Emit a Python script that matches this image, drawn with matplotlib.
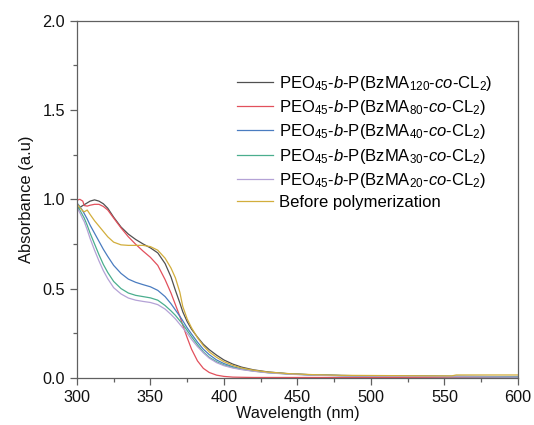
import matplotlib
matplotlib.use("Agg")
import matplotlib.pyplot as plt
from matplotlib.ticker import MultipleLocator, FormatStrFormatter

plt.rcParams['font.family'] = ['Liberation Sans', 'DejaVu Sans']
plt.rcParams['mathtext.fontset'] = 'custom'
plt.rcParams['mathtext.rm'] = 'Liberation Sans'
plt.rcParams['mathtext.it'] = 'Liberation Sans:italic'
plt.rcParams['mathtext.bf'] = 'Liberation Sans:bold'

# UV-vis absorption spectra (wavelength in nm)
wavelength = [300, 302, 304, 305, 307, 309, 312, 315, 318, 321, 325, 330, 335, 340,
              345, 350, 355, 360, 364, 367, 370, 372, 375, 378, 382, 386, 390, 395,
              400, 406, 412, 420, 430, 445, 460, 480, 500, 520, 540, 555, 558, 580, 600]

abs_bzma120 = [0.94, 0.955, 0.965, 0.97, 0.98, 0.99, 0.997, 0.99, 0.975, 0.95, 0.90, 0.845,
               0.805, 0.775, 0.75, 0.728, 0.70, 0.64, 0.565, 0.49, 0.42, 0.37, 0.315, 0.272,
               0.228, 0.188, 0.158, 0.127, 0.10, 0.077, 0.06, 0.045, 0.033, 0.022, 0.017,
               0.013, 0.011, 0.010, 0.009, 0.008, 0.008, 0.007, 0.007]
abs_bzma80 = [0.995, 1.0, 0.99, 0.965, 0.962, 0.967, 0.972, 0.972, 0.96, 0.94, 0.895, 0.84,
              0.79, 0.748, 0.71, 0.675, 0.63, 0.55, 0.475, 0.41, 0.345, 0.295, 0.225, 0.16,
              0.095, 0.053, 0.03, 0.015, 0.008, 0.004, 0.003, 0.002, 0.002, 0.002, 0.002,
              0.002, 0.002, 0.002, 0.002, 0.002, 0.002, 0.002, 0.002]
abs_bzma40 = [0.98, 0.96, 0.935, 0.92, 0.89, 0.855, 0.81, 0.765, 0.72, 0.68, 0.63, 0.585,
              0.553, 0.535, 0.522, 0.51, 0.49, 0.455, 0.415, 0.38, 0.345, 0.32, 0.28, 0.245,
              0.20, 0.16, 0.13, 0.10, 0.08, 0.062, 0.05, 0.04, 0.03, 0.022, 0.017,
              0.013, 0.011, 0.010, 0.009, 0.008, 0.008, 0.007, 0.006]
abs_bzma30 = [0.965, 0.94, 0.91, 0.895, 0.855, 0.81, 0.75, 0.69, 0.635, 0.59, 0.54, 0.50,
              0.475, 0.462, 0.455, 0.448, 0.435, 0.405, 0.375, 0.35, 0.32, 0.30, 0.265, 0.23,
              0.185, 0.145, 0.115, 0.09, 0.072, 0.058, 0.048, 0.038, 0.029, 0.021, 0.016,
              0.012, 0.010, 0.009, 0.008, 0.007, 0.007, 0.006, 0.005]
abs_bzma20 = [0.955, 0.925, 0.89, 0.875, 0.83, 0.78, 0.715, 0.655, 0.60, 0.555, 0.505, 0.47,
              0.447, 0.435, 0.428, 0.422, 0.41, 0.385, 0.355, 0.33, 0.30, 0.28, 0.25, 0.215,
              0.175, 0.14, 0.11, 0.085, 0.068, 0.055, 0.046, 0.037, 0.028, 0.02, 0.015,
              0.011, 0.009, 0.008, 0.007, 0.006, 0.006, 0.005, 0.004]
abs_before = [0.975, 0.955, 0.935, 0.93, 0.94, 0.915, 0.88, 0.85, 0.82, 0.79, 0.76, 0.745,
              0.742, 0.742, 0.742, 0.735, 0.715, 0.67, 0.615, 0.56, 0.48, 0.40, 0.33, 0.28,
              0.225, 0.18, 0.145, 0.115, 0.09, 0.07, 0.055, 0.043, 0.032, 0.023, 0.018,
              0.014, 0.013, 0.012, 0.011, 0.011, 0.016, 0.016, 0.016]

labels = [
    r'PEO$_{45}$-$\it{b}$-P(BzMA$_{120}$-$\it{co}$-CL$_2$)',
    r'PEO$_{45}$-$\it{b}$-P(BzMA$_{80}$-$\it{co}$-CL$_2$)',
    r'PEO$_{45}$-$\it{b}$-P(BzMA$_{40}$-$\it{co}$-CL$_2$)',
    r'PEO$_{45}$-$\it{b}$-P(BzMA$_{30}$-$\it{co}$-CL$_2$)',
    r'PEO$_{45}$-$\it{b}$-P(BzMA$_{20}$-$\it{co}$-CL$_2$)',
    'Before polymerization',
]
series = [abs_bzma120, abs_bzma80, abs_bzma40, abs_bzma30, abs_bzma20, abs_before]
colors = ['#505050', '#e2505c', '#4a7cc0', '#4aae8e', '#b4a2d6', '#d2ae3c']

fig = plt.figure(figsize=(5.34, 4.25), dpi=100)
ax = fig.add_axes([0.144, 0.111, 0.826, 0.840])

for y, lab, c in zip(series, labels, colors):
    ax.plot(wavelength, y, color=c, lw=0.9, label=lab)

ax.set_xlim(300, 600)
ax.set_ylim(0, 2.0)
ax.xaxis.set_major_locator(MultipleLocator(50))
ax.xaxis.set_minor_locator(MultipleLocator(25))
ax.yaxis.set_major_locator(MultipleLocator(0.5))
ax.yaxis.set_minor_locator(MultipleLocator(0.25))
ax.yaxis.set_major_formatter(FormatStrFormatter('%.1f'))

spine_c = '#606060'
for s in ax.spines.values():
    s.set_color(spine_c)
    s.set_linewidth(0.9)
ax.tick_params(which='both', direction='out', colors=spine_c, labelcolor='#111111',
               top=False, right=False, labelsize=11.7)
ax.tick_params(which='major', length=5, width=0.9)
ax.tick_params(which='minor', length=3, width=0.9)

ax.set_xlabel('Wavelength (nm)', fontsize=11.7, labelpad=1, color='#111111')
ax.set_ylabel('Absorbance (a.u)', fontsize=11.9, labelpad=6, color='#111111')

ax.legend(loc='upper left', bbox_to_anchor=(0.363, 0.852), frameon=False,
          fontsize=12, handlelength=2.16, handletextpad=0.36, borderpad=0,
          borderaxespad=0, labelspacing=0.32)

fig.savefig('out.png', dpi=100)
